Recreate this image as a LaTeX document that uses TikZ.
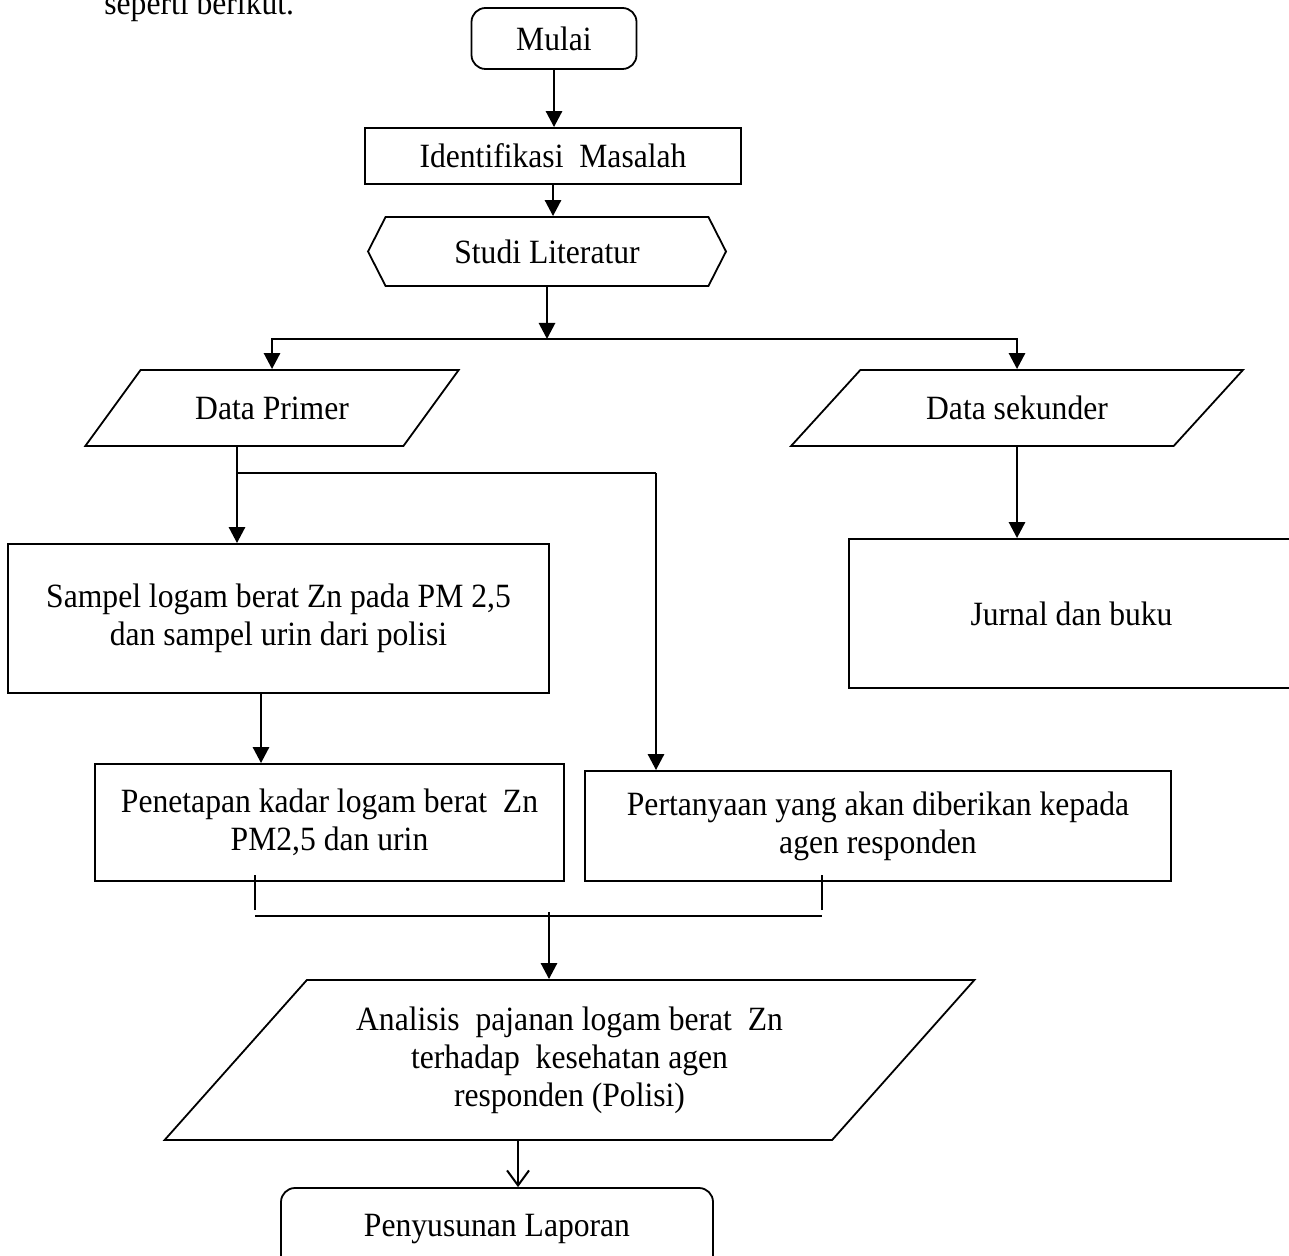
\documentclass[tikz,border=0pt]{standalone}
\usepackage{fontspec}
\setmainfont[FakeStretch=0.93]{Liberation Serif}
\usetikzlibrary{positioning,arrows.meta,calc,shapes.geometric,shapes.symbols}
\tikzset{
  proc/.style={draw,line width=0.9pt,align=center,inner sep=3pt},
  term/.style={proc,rounded corners=7pt},
  prep/.style={proc,signal,signal to=west and east,signal pointer angle=126},
  io/.style={proc,trapezium,trapezium stretches=true,trapezium left angle=45,trapezium right angle=135},
  flow/.style={line width=1.4pt,-{Triangle[length=8pt,width=8pt]}},
  link/.style={line width=1.4pt},
  tick/.style={line width=0.9pt},
  openflow/.style={line width=1pt,-{Straight Barb[length=7.5pt,width=11pt]}},
}

\begin{document}
\begin{tikzpicture}[x=0.5pt,y=-0.5pt,font=\fontsize{17}{19}\selectfont]
  \useasboundingbox (0,0) rectangle (1289,1256);
  \node[anchor=base west,inner sep=0pt] (intro) at (104,15) {seperti berikut.};

  \node[term,minimum width=82.5pt,minimum height=30.5pt] (mulai) at (554,38.5) {Mulai};
  \node[proc,minimum width=188pt,minimum height=28pt] (ident) at (553,156) {Identifikasi~ Masalah};
  \node[prep,minimum width=179pt,minimum height=34.5pt] (studi) at (547,251.5) {Studi Literatur};
  \node[io,minimum width=187pt,minimum height=38pt] (primer) at (272,408) {Data Primer};
  \node[io,trapezium left angle=40,trapezium right angle=140,minimum width=226pt,minimum height=38pt] (sekunder) at (1017,408) {Data sekunder};
  \node[proc,minimum width=270.5pt,minimum height=74.5pt] (sampel) at (278.5,618.5) {Sampel logam berat Zn pada PM 2,5\\dan sampel urin dari polisi};
  \node[proc,minimum width=222.5pt,minimum height=74.5pt] (jurnal) at (1071.5,613.5) {Jurnal dan buku};
  \node[proc,minimum width=234.5pt,minimum height=58.5pt] (penetapan) at (329.5,822.5) {Penetapan kadar logam berat~ Zn\\PM2,5 dan urin};
  \node[proc,minimum width=293pt,minimum height=55pt] (tanya) at (878,826) {Pertanyaan yang akan diberikan kepada\\agen responden};
  \node[io,minimum width=406.5pt,minimum height=80pt] (analisis) at (569.5,1060) {Analisis~ pajanan logam berat~ Zn\\terhadap~ kesehatan agen\\responden (Polisi)};
  \node[term,minimum width=216pt,minimum height=41pt] (laporan) at (497,1229) {Penyusunan Laporan};

  \coordinate (split) at (547,339);
  \coordinate (fork) at (237,473);
  \coordinate (turn) at (656,473);
  \coordinate (tickL) at (255,910);
  \coordinate (tickR) at (822,910);
  \coordinate (barL) at (255,916);
  \coordinate (barR) at (822,916);
  \coordinate (join) at (549,912);

  \draw[flow] (mulai.south) -- (mulai.south |- ident.north);
  \draw[flow] (ident.south) -- (ident.south |- studi.north);
  \draw[flow] (studi.south) -- (split);
  \draw[flow] (split) -| (primer.north);
  \draw[flow] (split) -| (sekunder.north);
  \draw[link] (fork |- primer.south) -- (fork);
  \draw[flow] (fork) -- (fork |- sampel.north);
  \draw[link] (fork) -- (turn);
  \draw[flow] (turn) -- (turn |- tanya.north);
  \draw[flow] (sekunder.south) -- (sekunder.south |- jurnal.north);
  \draw[flow] ([xshift=-8.75pt]sampel.south) -- ([xshift=-8.75pt]sampel.south |- penetapan.north);

  \draw[tick] (tickL) -- ++(0,-35);
  \draw[tick] (tickR) -- ++(0,-35);
  \draw[tick] (barL) -- (barR);
  \draw[flow] (join) -- (join |- analisis.north);
  \draw[openflow] ([xshift=-25.75pt]analisis.south) -- ([xshift=-25.75pt]analisis.south |- laporan.north);
\end{tikzpicture}
\end{document}
